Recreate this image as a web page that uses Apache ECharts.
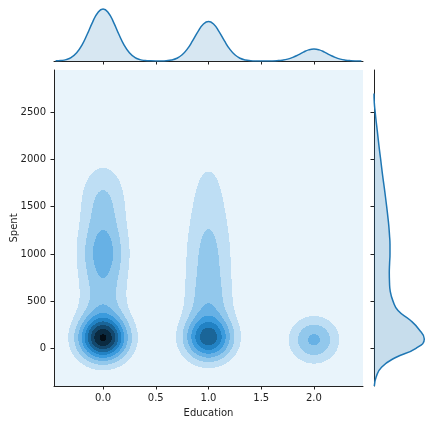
<!DOCTYPE html>
<html><head><meta charset="utf-8">
<script src="https://cdn.jsdelivr.net/npm/echarts@6/dist/echarts.min.js"></script>
<style>html,body{margin:0;padding:0;background:#fff}#c{width:434px;height:424px}</style>
</head><body><div id="c"></div>
<script>
// ---- data ----
const educationCategories = [0, 1, 2];
const xTickValues = [0, 0.5, 1, 1.5, 2];
const yTickValues = [0, 500, 1000, 1500, 2000, 2500];
const xRange = [-0.465, 2.465];
const yRange = [-399, 2948];

// joint KDE, estimated from the contour shapes: Gaussian spread along Education,
// and per Education level the Spent components [centre, spread, height]
const kdeSpreadX = 0.157;
const jointComponents0 = [[100, 160, 0.84], [450, 250, 0.20], [1000, 260, 0.32], [1580, 280, 0.20]];
const jointComponents1 = [[100, 161, 0.60], [450, 250, 0.20], [950, 320, 0.18], [1600, 420, 0.12]];
const jointComponents2 = [[90, 165, 0.32]];
const contourLevels = [0.1, 0.2, 0.3, 0.4, 0.5, 0.6, 0.7, 0.8, 0.9];
const bandColors = ['#e9f4fb', '#bedef4', '#92c8ec', '#67b1e5', '#3b9bdd', '#2282c4', '#1a6598', '#13486d', '#0b2b41', '#040e16'];

// top marginal KDE of Education (relative height)
const topMarginX = [-0.45,-0.4,-0.35,-0.3,-0.25,-0.2,-0.15,-0.1,-0.05,0,0.05,0.1,0.15,0.2,0.25,0.3,0.35,0.4,0.45,0.5,
  0.55,0.6,0.65,0.7,0.75,0.8,0.85,0.9,0.95,1,1.05,1.1,1.15,1.2,1.25,1.3,1.35,1.4,1.45,1.5,
  1.55,1.6,1.65,1.7,1.75,1.8,1.85,1.9,1.95,2,2.05,2.1,2.15,2.2,2.25,2.3,2.35,2.4,2.45];
const topMarginDensity = [0.003,0.009,0.027,0.070,0.157,0.306,0.514,0.744,0.929,1.000,0.929,0.744,0.514,0.306,0.157,0.070,0.027,0.009,0.003,0.001,
  0.002,0.007,0.020,0.053,0.119,0.233,0.391,0.565,0.706,0.760,0.706,0.565,0.391,0.233,0.119,0.053,0.020,0.007,0.002,0.001,
  0.001,0.002,0.006,0.016,0.036,0.070,0.118,0.171,0.214,0.230,0.214,0.171,0.118,0.070,0.036,0.016,0.006,0.002,0.001];

// right marginal KDE of Spent (relative height)
const rightMarginSpent = [2700,2600,2500,2400,2300,2200,2100,2000,1900,1800,1700,1600,1500,1400,1300,1200,1100,1000,
  900,800,700,600,500,400,300,200,100,0,-100,-200,-300,-400];
const rightMarginDensity = [0.0,0.006,0.024,0.044,0.066,0.087,0.109,0.133,0.155,0.179,0.205,0.229,0.252,0.274,0.294,0.308,0.318,0.318,
  0.310,0.304,0.308,0.324,0.378,0.477,0.716,0.895,1.0,0.835,0.42,0.15,0.044,0.006];

// ---- build the contour bands ----
const jointComponents = [jointComponents0, jointComponents1, jointComponents2];
function density(x, y) {
  let s = 0;
  for (let ci = 0; ci < educationCategories.length; ci++) {
    const dx = x - educationCategories[ci];
    const gx = Math.exp(-dx * dx / (2 * kdeSpreadX * kdeSpreadX));
    if (gx < 1e-7) continue;
    let gy = 0;
    for (const [m, sg, w] of jointComponents[ci]) {
      const d = y - m;
      gy += w * Math.exp(-d * d / (2 * sg * sg));
    }
    s += gx * gy;
  }
  return s;
}
const NX = 309, NY = 316;
const stepX = (xRange[1] - xRange[0]) / NX, stepY = (yRange[1] - yRange[0]) / NY;
const bandRuns = [];
for (let j = 0; j < NY; j++) {
  const y0 = yRange[0] + j * stepY, y1 = y0 + stepY, yc = y0 + stepY / 2;
  let runStart = 0, runLevel = -1;
  for (let i = 0; i <= NX; i++) {
    let lev = -1;
    if (i < NX) {
      const f = density(xRange[0] + (i + 0.5) * stepX, yc);
      lev = 0;
      for (const L of contourLevels) if (f >= L) lev++;
    }
    if (lev !== runLevel) {
      if (runLevel >= 1) bandRuns.push([xRange[0] + runStart * stepX, xRange[0] + i * stepX, y0, y1, runLevel]);
      runStart = i; runLevel = lev;
    }
  }
}

const axisColor = '#222';
const font = 'DejaVu Sans';
const chart = echarts.init(document.getElementById('c'), null, {renderer: 'canvas'});
chart.setOption({
  animation: false,
  backgroundColor: '#fff',
  grid: [
    {left: 54, top: 70, width: 309, height: 316, show: true, backgroundColor: bandColors[0], borderWidth: 0,
     containLabel: false, outerBoundsMode: 'none'},
    {left: 54, top: 0, width: 309, height: 61, containLabel: false, outerBoundsMode: 'none'},
    {left: 374, top: 70, width: 60, height: 316, containLabel: false, outerBoundsMode: 'none'}
  ],
  xAxis: [
    {gridIndex: 0, type: 'value', min: xRange[0], max: xRange[1],
     axisLine: {show: true, onZero: false, lineStyle: {color: axisColor, width: 1}},
     axisTick: {show: true, length: 3.5, customValues: xTickValues, lineStyle: {color: axisColor}},
     axisLabel: {customValues: xTickValues, formatter: v => Number(v).toFixed(1), fontSize: 10, color: axisColor, fontFamily: font, margin: 7},
     splitLine: {show: false},
     name: 'Education', nameLocation: 'middle', nameGap: 22, nameMoveOverlap: false,
     nameTextStyle: {fontSize: 10, color: axisColor, fontFamily: font}},
    {gridIndex: 1, type: 'value', min: xRange[0], max: xRange[1],
     axisLine: {show: true, onZero: false, lineStyle: {color: axisColor, width: 1}},
     axisTick: {show: true, length: 3.5, customValues: xTickValues, lineStyle: {color: axisColor}},
     axisLabel: {show: false}, splitLine: {show: false}},
    {gridIndex: 2, type: 'value', min: 0, max: 1.193, show: false, splitLine: {show: false}}
  ],
  yAxis: [
    {gridIndex: 0, type: 'value', min: yRange[0], max: yRange[1],
     axisLine: {show: true, onZero: false, lineStyle: {color: axisColor, width: 1}},
     axisTick: {show: true, length: 3.5, customValues: yTickValues, lineStyle: {color: axisColor}},
     axisLabel: {customValues: yTickValues, formatter: v => String(Math.round(v)), fontSize: 10, color: axisColor, fontFamily: font, margin: 8},
     splitLine: {show: false},
     name: 'Spent', nameLocation: 'middle', nameGap: 35, nameMoveOverlap: false,
     nameTextStyle: {fontSize: 10, color: axisColor, fontFamily: font}},
    {gridIndex: 1, type: 'value', min: 0, max: 1.173, show: false, splitLine: {show: false}},
    {gridIndex: 2, type: 'value', min: yRange[0], max: yRange[1],
     axisLine: {show: true, onZero: false, lineStyle: {color: axisColor, width: 1}},
     axisTick: {show: true, length: 3.5, customValues: yTickValues, lineStyle: {color: axisColor}},
     axisLabel: {show: false}, splitLine: {show: false}}
  ],
  series: [
    {type: 'custom', xAxisIndex: 0, yAxisIndex: 0, data: bandRuns, progressive: 0, silent: true, clip: true,
     renderItem: function (params, api) {
       const p0 = api.coord([api.value(0), api.value(3)]);
       const p1 = api.coord([api.value(1), api.value(2)]);
       const x0 = Math.round(p0[0]), x1 = Math.round(p1[0]);
       const y0 = Math.round(p0[1]), y1 = Math.round(p1[1]);
       return {type: 'rect', shape: {x: x0, y: y0, width: x1 - x0, height: y1 - y0},
               style: {fill: bandColors[api.value(4)]}};
     }},
    {type: 'line', xAxisIndex: 1, yAxisIndex: 1, smooth: true, symbol: 'none', silent: true,
     data: topMarginX.map((x, i) => [x, topMarginDensity[i]]),
     lineStyle: {color: '#1f77b4', width: 1.5},
     areaStyle: {color: 'rgba(31,119,180,0.25)'}},
    {type: 'custom', xAxisIndex: 2, yAxisIndex: 2, data: [0], silent: true, z: 1,
     renderItem: function (params, api) {
       const pts = rightMarginSpent.map((s, i) => api.coord([rightMarginDensity[i], s]));
       pts.push(api.coord([0, rightMarginSpent[rightMarginSpent.length - 1]]));
       pts.unshift(api.coord([0, rightMarginSpent[0]]));
       return {type: 'polygon', shape: {points: pts, smooth: 0.3},
               style: {fill: 'rgba(31,119,180,0.25)'}};
     }},
    {type: 'line', xAxisIndex: 2, yAxisIndex: 2, smooth: true, symbol: 'none', silent: true,
     data: rightMarginSpent.map((s, i) => [rightMarginDensity[i], s]),
     lineStyle: {color: '#1f77b4', width: 1.5}}
  ]
});
</script>
</body></html>
